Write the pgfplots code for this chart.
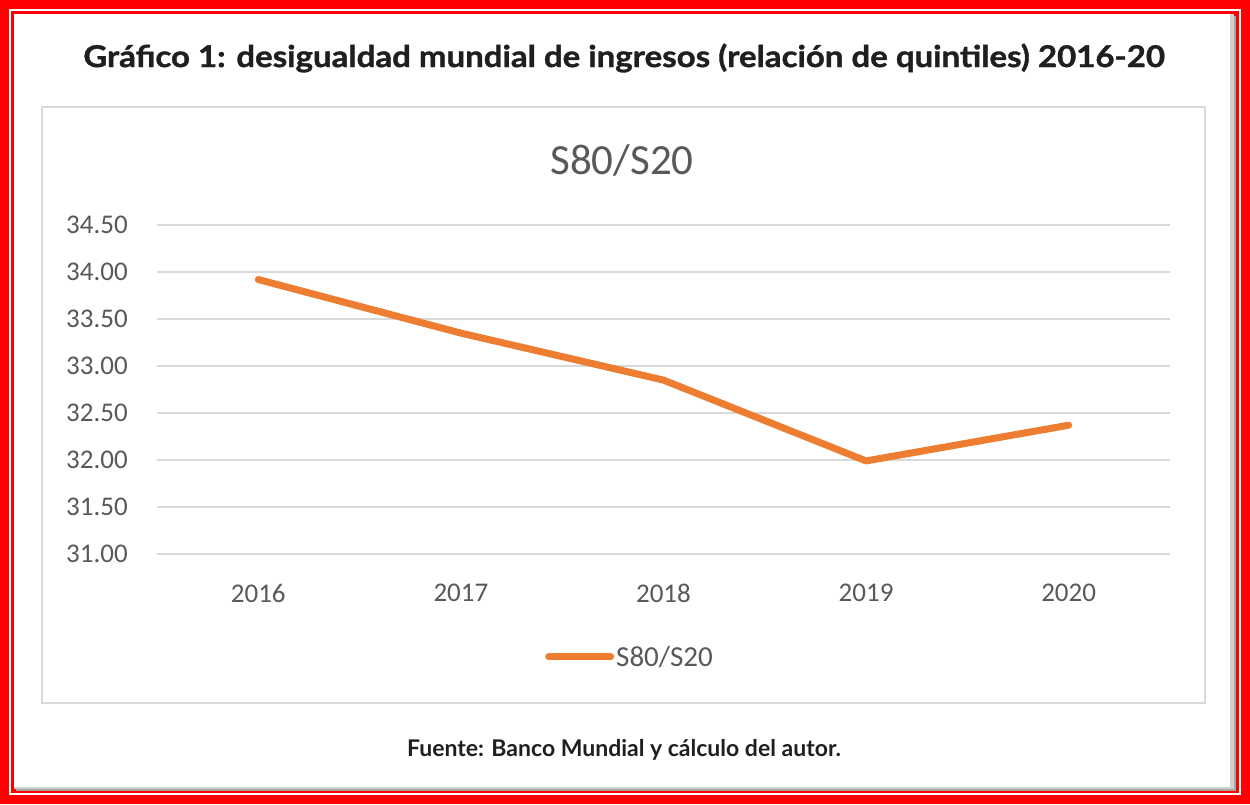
\documentclass[border=0pt]{standalone}
\usepackage{pgfplots}
\pgfplotsset{compat=1.18}
\usepackage{fontspec}
\setmainfont{Carlito}
\newfontfamily\lato{Lato}
\newfontfamily\latotitle{Lato}[BoldFeatures={FakeBold=1.2, FakeStretch=1.1}]
\definecolor{redframe}{HTML}{FF0000}
\definecolor{txtgrey}{HTML}{595959}
\definecolor{gridgrey}{HTML}{D9D9D9}
\definecolor{xlorange}{HTML}{ED7D31}
\definecolor{titleblack}{HTML}{1F1F1F}
\begin{document}
\begin{tikzpicture}[x=1pt,y=1pt]
\useasboundingbox (0,0) rectangle (1250,804);
% frame
\fill[redframe] (0,0) rectangle (1250,804);
\fill[white] (9,9) rectangle (1241,795);
\fill[redframe] (11,11) rectangle (1239,793);
\fill[black!35] (16,13) rectangle (1236,788);
\fill[black!18] (14,15) rectangle (1234,790);
\fill[white] (14,17) rectangle (1230,790);
% title
\node[font={\latotitle\bfseries\fontsize{30}{36}\selectfont}, text=titleblack] at (624,746) {Gráfico 1: desigualdad mundial de ingresos (relación de quintiles) 2016-20};
% chart box
\draw[gridgrey, line width=2pt] (42,101) rectangle (1205,697);
% chart title
\node[font={\fontsize{43}{50}\selectfont}, text=txtgrey] at (622,644) {S80/S20};
% source
\node[font={\lato\bfseries\fontsize{23}{28}\selectfont}, text=titleblack] at (624,54) {Fuente: Banco Mundial y cálculo del autor.};
\begin{axis}[
  at={(157pt,250pt)}, anchor=south west,
  scale only axis, width=1013pt, height=329pt,
  xmin=-0.5, xmax=4.5, ymin=31, ymax=34.5,
  ytick={31,31.5,32,32.5,33,33.5,34,34.5},
  xtick={0,1,2,3,4},
  xticklabels={2016,2017,2018,2019,2020},
  axis line style={draw=none},
  major tick style={draw=none},
  ymajorgrids,
  grid style={line width=2pt, color=gridgrey},
  /pgf/number format/.cd, fixed, fixed zerofill, precision=2, assume math mode=true,
  /pgfplots/.cd,
  tick label style={font={\fontsize{27}{32}\selectfont}, text=txtgrey},
  yticklabel style={anchor=east, inner sep=0pt, xshift=-29pt},
  xticklabel style={anchor=north, inner sep=0pt, yshift=-30pt},
  legend style={at={(0.467,-0.313)}, anchor=center, draw=none, fill=none,
    font={\fontsize{29}{34}\selectfont}, text=txtgrey, inner sep=0pt},
  legend image code/.code={\draw[line width=7pt, xlorange, line cap=round] (0pt,0pt) -- (62pt,0pt);},
  legend cell align=left,
]
\addplot[xlorange, line width=7pt, line join=round, line cap=round] coordinates {
  (0,33.92) (1,33.35) (2,32.85) (3,31.99) (4,32.37)
};
\addlegendentry{S80/S20}
\end{axis}
\end{tikzpicture}
\end{document}
